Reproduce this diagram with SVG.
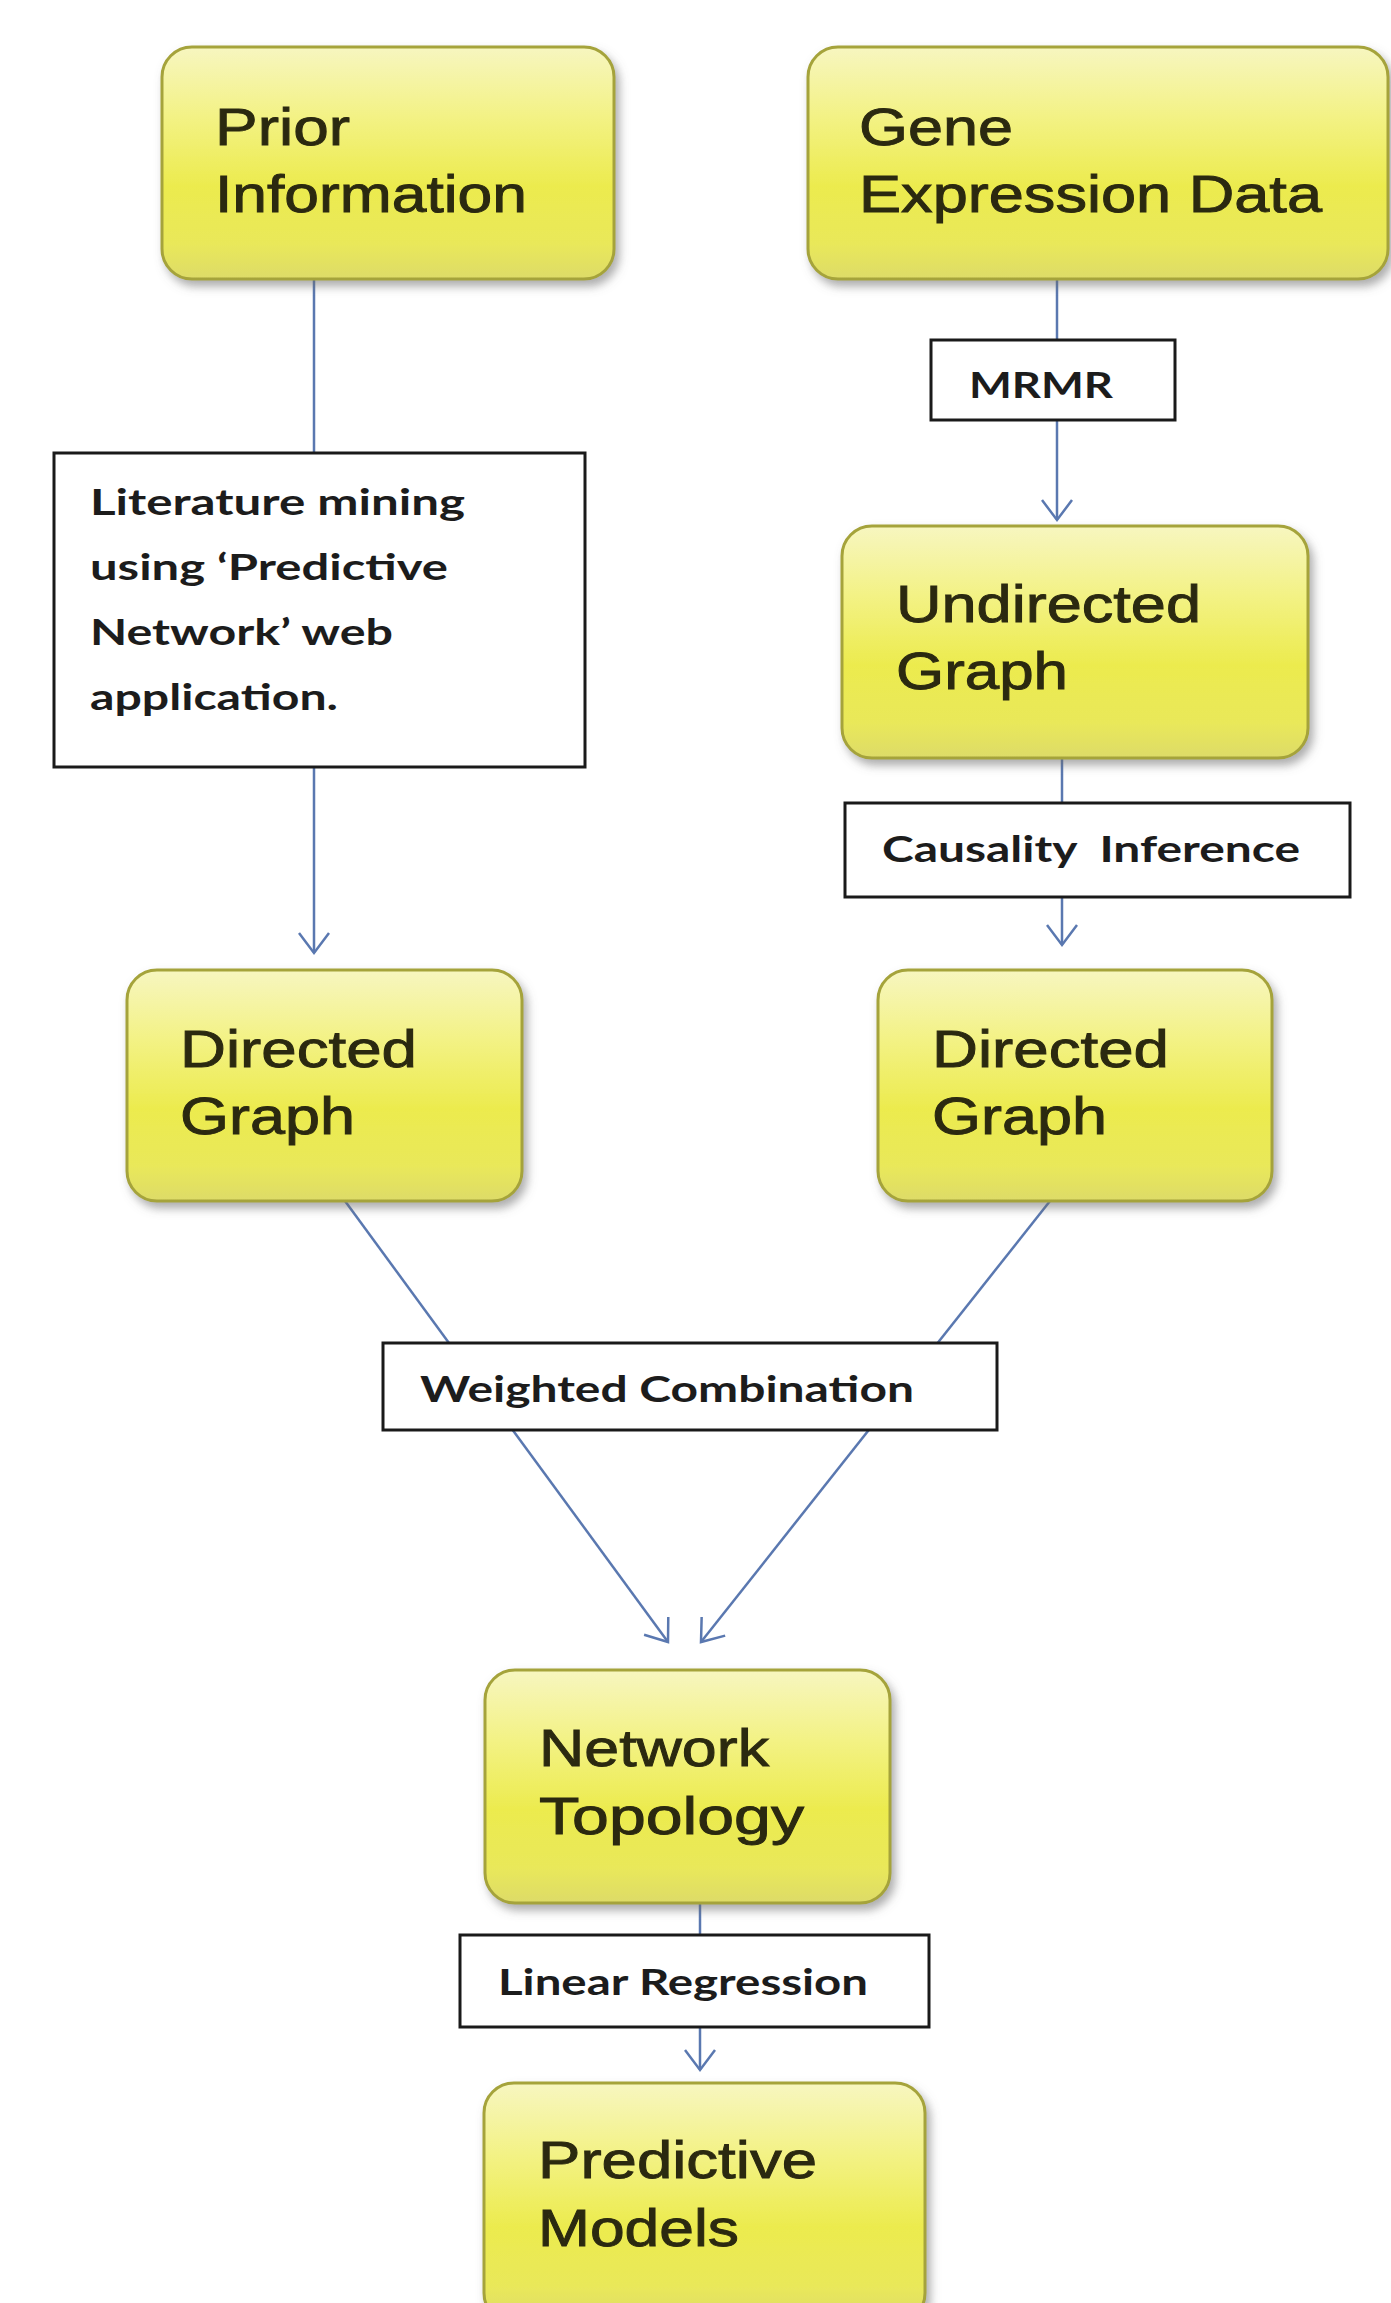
<svg xmlns="http://www.w3.org/2000/svg" width="1391" height="2303" viewBox="0 0 1391 2303">
  <defs>
    <linearGradient id="yellowFill" x1="0" y1="0" x2="0" y2="1">
      <stop offset="0" stop-color="#f7f6c0"/>
      <stop offset="0.3" stop-color="#f3f285"/>
      <stop offset="0.6" stop-color="#eceb4e"/>
      <stop offset="0.85" stop-color="#e9e85a"/>
      <stop offset="1" stop-color="#dddb68"/>
    </linearGradient>
    <filter id="softShadow" x="-10%" y="-10%" width="125%" height="130%">
      <feDropShadow dx="4" dy="6" stdDeviation="5" flood-color="#6b6b6b" flood-opacity="0.55"/>
    </filter>
    <marker id="openArrow" markerUnits="userSpaceOnUse" markerWidth="40" markerHeight="40" viewBox="-24 -20 28 40" refX="0" refY="0" orient="auto">
      <path d="M -20 -15 L 0 0 L -20 15" fill="none" stroke="#5a78b0" stroke-width="2.5"/>
    </marker>
    <style>
      .step { fill: url(#yellowFill); stroke: #a5a33a; stroke-width: 3; filter: url(#softShadow); }
      .stepText { font-family: "Liberation Sans", Arial, sans-serif; font-size: 52px; fill: #2b2910; stroke: #2b2910; stroke-width: 0.9; }
      .label { fill: #ffffff; stroke: #1a1a1a; stroke-width: 3; }
      .labelText { font-family: Lato, "Open Sans", sans-serif; font-weight: 700; font-size: 36px; fill: #1c1c1c; white-space: pre; }
      .link { fill: none; stroke: #5a78b0; stroke-width: 2.5; }
    </style>
  </defs>

  <rect width="1391" height="2303" fill="#ffffff"/>

  <!-- connectors -->
  <g id="connectors">
    <line class="link" x1="314" y1="279" x2="314" y2="953" marker-end="url(#openArrow)"/>
    <line class="link" x1="1057" y1="279" x2="1057" y2="520" marker-end="url(#openArrow)"/>
    <line class="link" x1="1062" y1="758" x2="1062" y2="945" marker-end="url(#openArrow)"/>
    <line class="link" x1="345" y1="1201" x2="668" y2="1642" marker-end="url(#openArrow)"/>
    <line class="link" x1="1050" y1="1201" x2="701" y2="1642" marker-end="url(#openArrow)"/>
    <line class="link" x1="700" y1="1903" x2="700" y2="2070" marker-end="url(#openArrow)"/>
  </g>

  <!-- process steps -->
  <g id="prior-information">
    <rect class="step" x="162" y="47" width="452" height="232" rx="30"/>
    <text class="stepText" x="215" y="145" textLength="135" lengthAdjust="spacingAndGlyphs">Prior</text>
    <text class="stepText" x="215" y="212" textLength="312" lengthAdjust="spacingAndGlyphs">Information</text>
  </g>

  <g id="gene-expression-data">
    <rect class="step" x="808" y="47" width="580" height="232" rx="30"/>
    <text class="stepText" x="859" y="145" textLength="154" lengthAdjust="spacingAndGlyphs">Gene</text>
    <text class="stepText" x="859" y="212" textLength="463" lengthAdjust="spacingAndGlyphs">Expression Data</text>
  </g>

  <g id="literature-mining">
    <rect class="label" x="54" y="453" width="531" height="314"/>
    <text class="labelText" x="90" y="515" textLength="375" lengthAdjust="spacingAndGlyphs">Literature mining</text>
    <text class="labelText" x="90" y="580" textLength="358" lengthAdjust="spacingAndGlyphs">using ‘Predictive</text>
    <text class="labelText" x="90" y="645" textLength="303" lengthAdjust="spacingAndGlyphs">Network’ web</text>
    <text class="labelText" x="90" y="710" textLength="248" lengthAdjust="spacingAndGlyphs">application.</text>
  </g>

  <g id="mrmr">
    <rect class="label" x="931" y="340" width="244" height="80"/>
    <text class="labelText" x="969" y="398" textLength="144" lengthAdjust="spacingAndGlyphs">MRMR</text>
  </g>

  <g id="undirected-graph">
    <rect class="step" x="842" y="526" width="466" height="232" rx="30"/>
    <text class="stepText" x="896" y="622" textLength="305" lengthAdjust="spacingAndGlyphs">Undirected</text>
    <text class="stepText" x="896" y="689" textLength="172" lengthAdjust="spacingAndGlyphs">Graph</text>
  </g>

  <g id="causality-inference">
    <rect class="label" x="845" y="803" width="505" height="94"/>
    <text class="labelText" x="882" y="862" textLength="418" lengthAdjust="spacingAndGlyphs" xml:space="preserve">Causality  Inference</text>
  </g>

  <g id="directed-graph-left">
    <rect class="step" x="127" y="970" width="395" height="231" rx="30"/>
    <text class="stepText" x="180" y="1067" textLength="237" lengthAdjust="spacingAndGlyphs">Directed</text>
    <text class="stepText" x="180" y="1134" textLength="175" lengthAdjust="spacingAndGlyphs">Graph</text>
  </g>

  <g id="directed-graph-right">
    <rect class="step" x="878" y="970" width="394" height="231" rx="30"/>
    <text class="stepText" x="932" y="1067" textLength="237" lengthAdjust="spacingAndGlyphs">Directed</text>
    <text class="stepText" x="932" y="1134" textLength="175" lengthAdjust="spacingAndGlyphs">Graph</text>
  </g>

  <g id="weighted-combination">
    <rect class="label" x="383" y="1343" width="614" height="87"/>
    <text class="labelText" x="420" y="1402" textLength="494" lengthAdjust="spacingAndGlyphs">Weighted Combination</text>
  </g>

  <g id="network-topology">
    <rect class="step" x="485" y="1670" width="405" height="233" rx="30"/>
    <text class="stepText" x="539" y="1766" textLength="230" lengthAdjust="spacingAndGlyphs">Network</text>
    <text class="stepText" x="539" y="1834" textLength="265" lengthAdjust="spacingAndGlyphs">Topology</text>
  </g>

  <g id="linear-regression">
    <rect class="label" x="460" y="1935" width="469" height="92"/>
    <text class="labelText" x="498" y="1995" textLength="370" lengthAdjust="spacingAndGlyphs">Linear Regression</text>
  </g>

  <g id="predictive-models">
    <rect class="step" x="484" y="2083" width="441" height="240" rx="30"/>
    <text class="stepText" x="538" y="2178" textLength="279" lengthAdjust="spacingAndGlyphs">Predictive</text>
    <text class="stepText" x="538" y="2246" textLength="201" lengthAdjust="spacingAndGlyphs">Models</text>
  </g>
</svg>
